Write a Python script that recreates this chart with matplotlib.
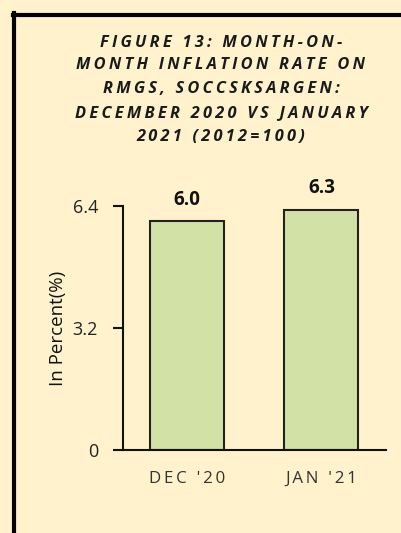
import numpy as np
import matplotlib.pyplot as plt
from matplotlib.lines import Line2D

categories = ["DEC '20", "JAN '21"]
values = [6.0, 6.3]
yticks = [0, 3.2, 6.4]
title_lines = ["FIGURE 13: MONTH-ON-", "MONTH INFLATION RATE ON",
               "RMGS, SOCCSKSARGEN:", "DECEMBER 2020 VS JANUARY",
               "2021 (2012=100)"]

bg = "#FFF2CC"
bar_color = "#D2E2A7"
plt.rcParams['font.family'] = ['Open Sans', 'DejaVu Sans']

def spaced(s, sep="\u2009"):
    # fake letter spacing
    return sep.join(list(s))

fig = plt.figure(figsize=(4.02, 5.33), dpi=100, facecolor=bg)
ax = fig.add_axes([0.306, 0.1557, 0.654, 0.4578], facecolor=bg)

x = np.arange(len(categories))
ax.bar(x, values, width=0.55, color=bar_color, edgecolor="#222222", linewidth=1.5)
for xi, v in zip(x, values):
    ax.text(xi, v + 0.3, f"{v:.1f}", ha="center", va="bottom",
            fontsize=13.5, fontweight="bold", color="#111111")

ax.set_xlim(-0.476, 1.48)
ax.set_ylim(0, 6.4)
ax.set_yticks(yticks)
ax.set_yticklabels(["0", "3.2", "6.4"], fontsize=13, color="#222222")
ax.set_xticks(x)
ax.set_xticklabels([spaced(c) for c in categories], fontsize=12.2, color="#333333")
ax.tick_params(axis="x", length=0, pad=15)
ax.tick_params(axis="y", length=7, width=1.5, color="#111111", pad=11)
ax.spines["top"].set_visible(False)
ax.spines["right"].set_visible(False)
ax.spines["left"].set_linewidth(1.5)
ax.spines["bottom"].set_linewidth(1.5)
ax.spines["left"].set_color("#111111")
ax.spines["bottom"].set_color("#111111")
ax.set_ylabel("In Percent(%)", fontsize=13.5, color="#111111", labelpad=4)

# title lines
ys = [43, 65, 89, 113, 137]
for line, yp in zip(title_lines, ys):
    fig.text(221 / 402, 1 - yp / 533, spaced(line), ha="center", va="center",
             fontsize=11.8, fontweight="bold", fontstyle="italic", color="#1a1a1a")

# frame (left and top only visible)
fig.add_artist(Line2D([14.5 / 402, 14.5 / 402], [0, 1 - 13 / 533],
                      transform=fig.transFigure, color="black", linewidth=3))
fig.add_artist(Line2D([13 / 402, 1], [1 - 14.5 / 533, 1 - 14.5 / 533],
                      transform=fig.transFigure, color="black", linewidth=3))

fig.savefig("out.png", dpi=100, facecolor=bg)
